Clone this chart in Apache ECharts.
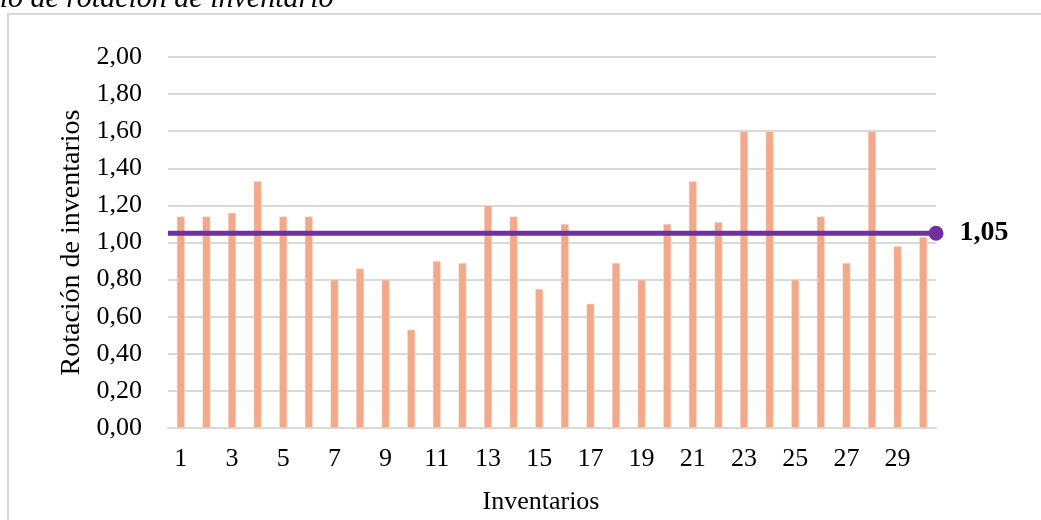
<!DOCTYPE html>
<html>
<head>
<meta charset="utf-8">
<script src="https://cdn.jsdelivr.net/npm/echarts@6/dist/echarts.min.js"></script>
<style>
  html, body { margin: 0; padding: 0; background: #fff; }
  #chart { width: 1041px; height: 520px; }
</style>
</head>
<body>
<div id="chart"></div>
<script>
// Inventory turnover ratio per inventory, with the overall average
const inventarios = Array.from({ length: 30 }, (_, i) => String(i + 1));
const rotacion = [
  1.14, 1.14, 1.16, 1.33, 1.14, 1.14, 0.80, 0.86, 0.80, 0.53,
  0.90, 0.89, 1.20, 1.14, 0.75, 1.10, 0.67, 0.89, 0.80, 1.10,
  1.33, 1.11, 1.60, 1.60, 0.80, 1.14, 0.89, 1.60, 0.98, 1.03
];
const promedio = 1.05;
const yTicks = { min: 0, max: 2, interval: 0.2 };

const serif = '"Liberation Serif", "DejaVu Serif", serif';
const fmt = v => v.toFixed(2).replace('.', ',');

const chart = echarts.init(document.getElementById('chart'));
chart.setOption({
  animation: false,
  backgroundColor: '#fff',
  textStyle: { fontFamily: serif },
  graphic: [
    {
      type: 'rect',
      shape: { x: 8, y: 14, width: 1060, height: 540 },
      style: { fill: 'none', stroke: '#d9d9d9', lineWidth: 2 },
      z: -10
    },
    {
      type: 'text',
      style: {
        x: -42, y: -1,
        text: 'Ratio de rotación de inventario',
        font: 'italic 30px ' + serif,
        fill: '#000',
        verticalAlign: 'middle'
      }
    }
  ],
  grid: { left: 168, right: 105, top: 57, bottom: 89 },
  xAxis: [
    {
      type: 'category',
      data: inventarios,
      boundaryGap: true,
      axisTick: { show: false },
      axisLine: { lineStyle: { color: '#d9d9d9', width: 2 } },
      axisLabel: { interval: 1, color: '#000', fontSize: 26, margin: 18, fontFamily: serif },
      name: 'Inventarios',
      nameLocation: 'middle',
      nameGap: 61,
      nameTextStyle: { color: '#000', fontSize: 26, fontFamily: serif, padding: [0, 22, 0, 0] }
    },
    { type: 'value', min: 0, max: 1, show: false }
  ],
  yAxis: {
    type: 'value',
    min: yTicks.min, max: yTicks.max, interval: yTicks.interval,
    axisLine: { show: false },
    axisTick: { show: false },
    splitLine: { lineStyle: { color: '#d9d9d9', width: 2 } },
    axisLabel: { color: '#000', fontSize: 26, margin: 26, fontFamily: serif, formatter: fmt },
    name: 'Rotación de inventarios',
    nameLocation: 'middle',
    nameRotate: 90,
    nameGap: 81,
    nameTextStyle: { color: '#000', fontSize: 28, fontFamily: serif }
  },
  series: [
    {
      type: 'bar',
      data: rotacion,
      barWidth: 8,
      itemStyle: { color: '#F2A98A', borderColor: '#fbe3d9', borderWidth: 0.5 },
      z: 2
    },
    {
      type: 'line',
      xAxisIndex: 1,
      data: [
        { value: [0, promedio], symbol: 'none' },
        {
          value: [1, promedio], symbol: 'circle', symbolSize: 15,
          label: {
            show: true, position: 'right', distance: 16,
            formatter: () => fmt(promedio),
            color: '#000', fontSize: 28, fontWeight: 'bold', fontFamily: serif
          }
        }
      ],
      lineStyle: { color: '#7030A0', width: 5 },
      itemStyle: { color: '#7030A0' },
      z: 3
    }
  ]
});
</script>
</body>
</html>
